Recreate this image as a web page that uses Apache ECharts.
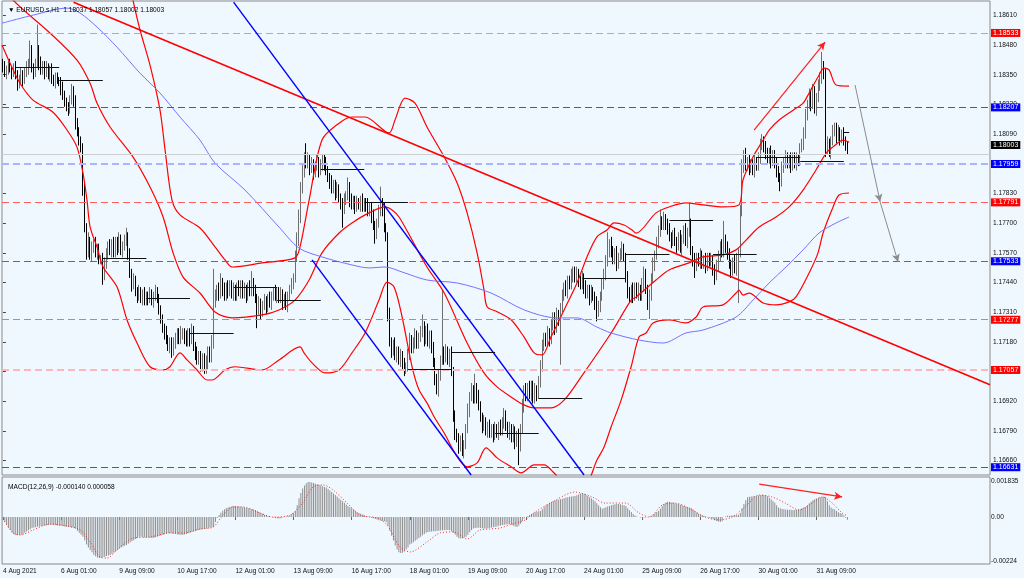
<!DOCTYPE html>
<html><head><meta charset="utf-8">
<script src="https://cdn.jsdelivr.net/npm/echarts@6/dist/echarts.min.js"></script>
<style>html,body{margin:0;padding:0;background:#f0f8ff}#c{width:1024px;height:578px}</style>
</head><body><div id="c"></div><script>
// ---------- DATA ----------
const symbolTitle = '\u25BC EURUSD.s,H1  1.18037 1.18057 1.18002 1.18003';
const macdTitle = 'MACD(12,26,9) -0.000140 0.000058';
const slotCount = 544;           // bar slots on the time axis (466 bars + right margin)
const firstOpen = 1.1840;
const closes = [
1.1838,1.1836,1.1837,1.1839,1.1838,1.1836,1.1838,1.1835,1.1831,1.1833,
1.1835,1.1833,1.1836,1.1838,1.1840,1.1845,1.1838,1.1836,1.1840,1.1846,
1.1840,1.1837,1.1839,1.1836,1.1838,1.1835,1.1837,1.1833,1.1832,1.1834,
1.1833,1.1832,1.1829,1.1826,1.1823,1.1822,1.1820,1.1824,1.1828,1.1824,
1.1813,1.1810,1.1807,1.1803,1.1785,1.1768,1.1757,1.1762,1.1756,1.1759,
1.1761,1.1757,1.1759,1.1754,1.1755,1.1747,1.1752,1.1757,1.1760,1.1758,
1.1761,1.1757,1.1762,1.1759,1.1763,1.1758,1.1760,1.1762,1.1764,1.1757,
1.1748,1.1743,1.1745,1.1740,1.1738,1.1740,1.1737,1.1739,1.1736,1.1738,
1.1737,1.1739,1.1736,1.1738,1.1740,1.1737,1.1733,1.1728,1.1724,1.1722,
1.1719,1.1716,1.1718,1.1714,1.1717,1.1720,1.1722,1.1719,1.1721,1.1722,
1.1720,1.1718,1.1722,1.1719,1.1723,1.1716,1.1713,1.1710,1.1712,1.1708,
1.1711,1.1706,1.1709,1.1714,1.1711,1.1718,1.1735,1.1738,1.1741,1.1739,
1.1744,1.1741,1.1738,1.1742,1.1740,1.1743,1.1739,1.1741,1.1738,1.1742,
1.1740,1.1743,1.1739,1.1741,1.1738,1.1742,1.1740,1.1744,1.1741,1.1737,
1.1732,1.1735,1.1731,1.1734,1.1736,1.1733,1.1737,1.1735,1.1738,1.1740,
1.1738,1.1740,1.1737,1.1739,1.1735,1.1737,1.1734,1.1738,1.1741,1.1743,
1.1746,1.1755,1.1763,1.1772,1.1785,1.1793,1.1799,1.1796,1.1798,1.1794,
1.1796,1.1792,1.1795,1.1797,1.1793,1.1795,1.1798,1.1796,1.1793,1.1790,
1.1788,1.1785,1.1787,1.1783,1.1785,1.1781,1.1779,1.1776,1.1780,1.1782,
1.1786,1.1780,1.1778,1.1780,1.1777,1.1779,1.1778,1.1780,1.1777,1.1779,
1.1778,1.1775,1.1777,1.1773,1.1769,1.1765,1.1770,1.1775,1.1779,1.1776,
1.1768,1.1764,1.1730,1.1718,1.1714,1.1717,1.1712,1.1714,1.1710,1.1712,
1.1708,1.1706,1.1707,1.1713,1.1719,1.1715,1.1718,1.1721,1.1717,1.1720,
1.1722,1.1725,1.1719,1.1723,1.1718,1.1721,1.1715,1.1709,1.1702,1.1698,
1.1703,1.1710,1.1714,1.1711,1.1714,1.1710,1.1713,1.1705,1.1686,1.1677,
1.1676,1.1672,1.1675,1.1670,1.1673,1.1680,1.1688,1.1694,1.1697,1.1693,
1.1698,1.1694,1.1690,1.1685,1.1681,1.1683,1.1679,1.1681,1.1678,1.1680,
1.1677,1.1680,1.1678,1.1681,1.1679,1.1683,1.1686,1.1681,1.1678,1.1680,
1.1676,1.1679,1.1674,1.1677,1.1672,1.1680,1.1690,1.1697,1.1694,1.1698,
1.1695,1.1699,1.1693,1.1697,1.1695,1.1700,1.1708,1.1716,1.1720,1.1718,
1.1722,1.1719,1.1725,1.1729,1.1724,1.1730,1.1727,1.1733,1.1738,1.1742,
1.1740,1.1745,1.1743,1.1747,1.1749,1.1746,1.1748,1.1745,1.1743,1.1746,
1.1742,1.1739,1.1741,1.1737,1.1740,1.1738,1.1735,1.1731,1.1734,1.1738,
1.1743,1.1748,1.1753,1.1757,1.1761,1.1758,1.1754,1.1757,1.1752,1.1755,
1.1757,1.1759,1.1755,1.1746,1.1740,1.1737,1.1741,1.1738,1.1742,1.1739,
1.1741,1.1738,1.1743,1.1748,1.1741,1.1735,1.1738,1.1746,1.1752,1.1756,
1.1761,1.1767,1.1771,1.1769,1.1772,1.1770,1.1767,1.1764,1.1762,1.1765,
1.1762,1.1760,1.1764,1.1759,1.1763,1.1767,1.1762,1.1766,1.1770,1.1758,
1.1754,1.1751,1.1755,1.1753,1.1756,1.1752,1.1754,1.1751,1.1755,1.1753,
1.1754,1.1750,1.1747,1.1751,1.1756,1.1760,1.1757,1.1763,1.1760,1.1756,
1.1752,1.1749,1.1753,1.1750,1.1755,1.1757,1.1775,1.1795,1.1800,1.1795,
1.1797,1.1794,1.1796,1.1793,1.1797,1.1795,1.1799,1.1804,1.1806,1.1803,
1.1801,1.1798,1.1801,1.1797,1.1800,1.1796,1.1793,1.1790,1.1788,1.1794,
1.1797,1.1799,1.1796,1.1798,1.1795,1.1799,1.1796,1.1798,1.1797,1.1803,
1.1804,1.1810,1.1817,1.1822,1.1826,1.1822,1.1828,1.1820,1.1825,1.1830,
1.1833,1.1838,1.1836,1.1802,1.1805,1.1801,1.1806,1.1810,1.1812,1.1808,
1.1810,1.1807,1.1809,1.1806,1.18037,1.18003];
// wick lengths above / below the body, in pips
const upWick = [
2,3,2,2,3,1,2,3,2,2, 3,2,2,3,2,5,3,2,2,11, 2,3,2,2,3,2,2,3,2,2, 2,1,2,3,2,2,1,2,3,2,
2,3,2,1,2,3,2,4,2,3, 2,3,2,2,1,2,3,2,2,3, 2,3,2,2,3,2,2,3,4,2, 2,2,3,2,2,3,2,2,3,2,
2,3,2,2,3,2,2,1,2,2, 3,2,2,2,3,2,2,2,4,2, 2,3,2,2,3,2,2,3,2,2, 2,2,3,2,2,3,15,3,2,3,
4,2,3,2,3,2,2,3,2,2, 3,2,2,3,2,2,3,5,2,2, 2,3,2,2,3,2,2,3,2,2, 3,2,2,3,2,2,3,2,2,3,
2,3,3,4,3,3,2,6,3,2, 3,2,2,3,2,3,2,2,3,2, 2,3,2,2,3,2,2,2,3,2, 4,2,3,2,2,3,2,2,3,2,
2,3,2,2,3,2,2,3,7,2, 3,2,2,3,2,2,3,2,2,3, 2,3,2,2,3,2,2,3,2,2, 3,5,2,2,3,2,2,3,2,2,
3,2,27,2,3,2,2,3,2,2, 3,2,2,3,2,2,3,2,3,2, 6,2,3,2,2,3,2,2,3,2, 2,3,2,2,3,2,3,2,2,3,
2,3,2,2,3,2,3,2,3,2, 3,2,2,3,2,3,2,3,2,2, 3,2,3,2,2,3,2,2,3,2, 3,2,2,3,2,2,3,2,2,3,
2,3,2,2,3,2,2,3,2,2, 3,2,3,9,2,3,2,2,3,2, 2,3,2,2,3,2,2,3,2,2, 3,2,3,3,2,2,3,2,3,2,
3,2,5,2,3,2,2,3,2,2, 3,2,2,3,2,2,3,2,9,2, 2,3,2,2,3,2,2,3,2,2, 3,2,2,3,2,2,3,8,2,2,
3,2,2,3,2,2,3,3,2,3, 2,3,2,2,3,2,2,3,3,2, 3,2,2,3,2,2,3,2,2,3, 2,3,2,2,3,2,2,3,2,2,
3,2,3,2,3,2,3,2,2,3, 3,7,3,2,3,2,2,3,2,2, 3,2,2,3,2,2];
const dnWick = [
2,2,3,2,2,3,2,2,3,2, 2,3,2,2,3,2,2,3,2,2, 3,2,2,3,2,2,3,2,2,3, 2,2,3,2,2,3,3,2,2,3,
2,2,3,2,3,2,3,2,2,3, 2,2,3,2,2,4,2,2,3,2, 3,2,2,3,2,2,3,2,2,3, 2,3,2,2,3,2,2,3,2,2,
3,2,2,3,2,2,3,2,2,3, 2,2,3,3,2,2,3,2,2,2, 3,2,2,3,2,2,3,2,2,3, 3,2,2,3,2,2,3,2,2,3,
2,3,2,2,3,2,2,3,2,2, 2,3,2,2,3,2,2,2,3,2, 8,2,3,2,2,3,2,2,3,2, 2,3,2,2,3,2,2,3,2,2,
2,2,2,3,2,2,3,2,2,3, 2,3,2,2,3,2,2,3,2,2, 3,2,2,3,2,2,3,8,2,2, 2,3,2,2,3,2,2,3,2,2,
3,2,2,3,2,4,2,2,2,3, 2,2,3,2,3,2,2,3,2,3, 2,3,2,2,3,2,2,3,2,2, 2,2,3,2,2,3,2,2,3,3,
4,2,2,3,2,2,3,2,3,2, 2,3,2,2,3,2,2,3,2,2, 2,3,2,2,3,2,2,3,2,2, 3,2,2,3,2,2,3,2,2,3,
2,2,3,2,8,2,2,3,2,2, 2,3,2,2,3,2,2,3,2,2, 2,3,2,2,3,2,2,19,2,2, 2,3,2,2,3,2,2,3,2,2,
3,2,2,3,2,2,3,4,2,3, 2,2,3,2,2,3,2,2,3,2, 2,3,2,2,3,2,2,3,2,2, 3,2,2,3,2,3,7,2,2,3,
2,2,3,2,2,3,2,2,3,2, 2,3,2,2,3,2,2,3,2,2, 3,5,2,2,3,2,2,3,2,2, 2,3,4,2,2,3,2,2,3,2,
2,3,2,2,3,20,2,2,3,2, 2,3,2,2,3,2,2,3,2,2, 3,2,2,3,2,2,3,2,4,2, 2,3,2,2,3,2,2,3,2,2,
2,2,3,2,2,3,2,2,3,2, 2,2,3,3,2,2,3,2,2,3, 2,3,2,2,2,0];
const timeLabels = ['4 Aug 2021','6 Aug 01:00','9 Aug 09:00','10 Aug 17:00','12 Aug 01:00','13 Aug 09:00','16 Aug 17:00','18 Aug 01:00','19 Aug 09:00','20 Aug 17:00','24 Aug 01:00','25 Aug 09:00','26 Aug 17:00','30 Aug 01:00','31 Aug 09:00'];
const priceTicks = [1.1666,1.1679,1.1692,1.1705,1.1718,1.1731,1.1744,1.1757,1.1770,1.1783,1.1796,1.1809,1.1822,1.1835,1.1848,1.1861];
const priceMin = 1.16597, priceMax = 1.18673;
// Bollinger bands and moving average: [bar, price] vertices
const upperBand = [[70.0,1.18743],[71.6,1.18677],[75.5,1.18546],[81.0,1.18392],[86.5,1.18195],[89.3,1.18020],[93.1,1.17801],[97.5,1.17736],[108.5,1.17679],[116.8,1.17596],[122.3,1.17539],[126.2,1.17508],[142.7,1.17526],[160.8,1.17548],[163.6,1.17596],[168.6,1.17801],[175.7,1.18064],[185.1,1.18138],[192.2,1.18165],[199.4,1.18165],[212.6,1.18095],[215.9,1.18152],[221.4,1.18248],[226.9,1.18226],[233.5,1.18121],[243.0,1.17990],[250.1,1.17876],[255.6,1.17745],[261.1,1.17570],[264.9,1.17408],[266.6,1.17334],[272.1,1.17312],[279.8,1.17277],[286.9,1.17202],[292.5,1.17132],[296.9,1.17123],[301.8,1.17202],[309.0,1.17320],[316.1,1.17438],[321.6,1.17552],[327.1,1.17640],[332.6,1.17670],[336.5,1.17701],[342.0,1.17692],[346.4,1.17670],[348.6,1.17656],[359.6,1.17745],[366.8,1.17771],[376.1,1.17789],[385.5,1.17780],[396.5,1.17771],[405.3,1.17780],[407.5,1.17889],[413.0,1.17990],[418.6,1.18064],[421.9,1.18108],[427.4,1.18152],[435.1,1.18195],[440.6,1.18226],[443.9,1.18270],[448.8,1.18340],[452.1,1.18379],[454.9,1.18371],[458.8,1.18305],[465.9,1.18300]];
const middleBand = [[3.5,1.18720],[5.6,1.18677],[25.9,1.18533],[40.8,1.18414],[48.0,1.18313],[51.8,1.18226],[59.0,1.18121],[71.6,1.17990],[81.0,1.17858],[88.2,1.17727],[93.7,1.17570],[99.2,1.17464],[108.5,1.17394],[116.8,1.17311],[126.2,1.17285],[142.7,1.17298],[152.0,1.17320],[160.8,1.17363],[168.6,1.17451],[175.7,1.17570],[185.1,1.17657],[192.2,1.17701],[201.6,1.17745],[210.4,1.17771],[214.3,1.17758],[218.1,1.17727],[225.3,1.17626],[233.5,1.17508],[243.0,1.17394],[255.6,1.17175],[264.9,1.17044],[272.1,1.16983],[279.8,1.16939],[286.9,1.16904],[292.5,1.16891],[301.8,1.16891],[309.0,1.16925],[318.3,1.17026],[334.9,1.17219],[345.9,1.17363],[348.6,1.17376],[359.6,1.17451],[366.8,1.17495],[377.8,1.17526],[385.5,1.17552],[396.5,1.17561],[403.7,1.17583],[409.2,1.17626],[416.4,1.17683],[425.7,1.17727],[432.9,1.17771],[440.6,1.17845],[447.7,1.17933],[453.3,1.18007],[457.1,1.18034],[462.6,1.18064],[465.9,1.18055]];
const lowerBand = [[-0.5,1.18480],[3.9,1.18401],[9.4,1.18313],[16.6,1.18239],[27.6,1.18186],[35.3,1.18108],[40.8,1.18033],[44.1,1.17919],[46.3,1.17801],[48.0,1.17684],[51.8,1.17596],[55.1,1.17509],[62.8,1.17421],[68.3,1.17277],[73.8,1.17176],[81.0,1.17071],[88.2,1.17057],[92.0,1.17071],[97.5,1.17132],[101.4,1.17101],[106.9,1.17057],[112.4,1.17013],[115.1,1.17013],[122.3,1.17057],[127.8,1.17071],[142.7,1.17057],[152.0,1.17101],[163.6,1.17158],[165.8,1.17132],[170.2,1.17088],[177.4,1.17044],[185.1,1.17057],[192.2,1.17132],[199.4,1.17219],[207.1,1.17363],[211.5,1.17442],[215.4,1.17420],[219.8,1.17289],[225.3,1.17071],[229.1,1.16970],[233.5,1.16913],[237.4,1.16852],[242.9,1.16782],[250.1,1.16677],[255.6,1.16633],[261.1,1.16650],[266.0,1.16716],[272.1,1.16672],[279.8,1.16633],[285.3,1.16606],[292.5,1.16641],[298.0,1.16641],[303.5,1.16606],[309.5,1.16560],[320.5,1.16560],[327.1,1.16663],[331.0,1.16720],[334.9,1.16808],[340.4,1.16925],[345.9,1.17071],[350.3,1.17202],[354.1,1.17219],[358.0,1.17263],[366.8,1.17276],[376.1,1.17263],[381.7,1.17289],[385.5,1.17333],[396.5,1.17342],[403.7,1.17394],[405.3,1.17407],[407.5,1.17385],[410.9,1.17394],[418.6,1.17350],[425.7,1.17342],[432.9,1.17355],[436.7,1.17377],[443.9,1.17482],[448.8,1.17570],[451.6,1.17657],[457.1,1.17771],[460.4,1.17823],[465.9,1.17832]];
const movingAverage = [[-0.5,1.18576],[16.6,1.18611],[35.3,1.18642],[42.5,1.18620],[51.8,1.18559],[62.8,1.18471],[75.5,1.18357],[86.5,1.18270],[97.5,1.18165],[108.5,1.18064],[116.8,1.17963],[133.3,1.17845],[152.0,1.17683],[163.0,1.17591],[175.7,1.17552],[192.2,1.17517],[201.6,1.17504],[210.4,1.17508],[219.8,1.17486],[233.5,1.17451],[250.1,1.17438],[268.8,1.17394],[287.0,1.17320],[305.1,1.17285],[316.1,1.17285],[327.1,1.17245],[334.9,1.17219],[350.3,1.17188],[363.5,1.17175],[376.1,1.17219],[385.5,1.17232],[403.7,1.17289],[413.0,1.17363],[421.9,1.17438],[431.2,1.17508],[440.6,1.17583],[449.4,1.17657],[458.8,1.17701],[465.9,1.17727]];
// horizontal levels
const levelPrices = [1.18533,1.18207,1.17959,1.17791,1.17533,1.17277,1.17057,1.16631];
const lastPrice = 1.18003;
// daily open markers
const dayStart = [7,31,55,79,103,127,151,175,199,223,247,271,295,319,343,367,391,415,439,463];
const dayOpen = [1.18384,1.18327,1.17547,1.17372,1.17219,1.17420,1.17363,1.17937,1.17793,1.17062,1.17136,1.16781,1.16934,1.17460,1.17565,1.17714,1.17565,1.17990,1.17972,1.18099];
// drawn objects: [bar, price] end points
const trendRed = [[38.9,1.18668],[543.5,1.16992]];
const channelUpper = [[127.0,1.18668],[320.0,1.16597]];
const channelLower = [[170.2,1.17539],[257.8,1.16597]];
const arrowRed = [[413.6,1.18108],[452.7,1.18493]];
const arrowGreyA = [[469.2,1.18305],[483.0,1.17793]];
const arrowGreyB = [[483.0,1.17793],[492.9,1.17530]];
// MACD (units of 0.00001)
const macdHist = [
-10,-25,-40,-55,-66,-80,-88,-92,-92,-92, -90,-86,-80,-74,-68,-62,-56,-54,-52,-50,
-48,-46,-44,-43,-42,-41,-40,-40,-41,-42, -43,-44,-45,-46,-48,-50,-51,-52,-53,-55,
-60,-70,-80,-90,-100,-120,-140,-155,-168,-180, -192,-200,-206,-209,-208,-205,-202,-199,-196,-193,
-187,-181,-175,-168,-161,-155,-150,-146,-142,-136, -130,-124,-118,-112,-106,-100,-101,-102,-103,-104,
-105,-106,-107,-106,-103,-100,-97,-94,-91,-88, -85,-83,-81,-83,-85,-87,-89,-90,-91,-92,
-89,-86,-83,-80,-77,-74,-71,-68,-66,-64, -62,-60,-58,-56,-54,-52,-51,-25,-5,10,
22,32,40,46,49,52,54,56,56,55, 54,52,50,48,46,44,42,40,38,36,
31,26,21,16,12,8,5,2,0,-3, -5,-7,-8,-6,-3,0,3,6,8,15,
22,30,60,95,122,145,160,172,178,178, 176,173,170,167,164,160,157,153,150,143,
135,127,120,112,104,96,88,80,72,64, 56,50,44,38,32,26,21,17,13,9,
5,2,-1,-4,-7,-10,-13,-16,-18,-20, -22,-25,-45,-70,-95,-120,-145,-165,-180,-184,
-182,-176,-166,-155,-140,-135,-128,-121,-114,-107, -100,-93,-86,-80,-76,-75,-74,-73,-72,-71,
-70,-69,-68,-67,-66,-66,-67,-72,-80,-90, -100,-108,-110,-108,-104,-100,-90,-78,-66,-58,
-56,-55,-55,-56,-57,-58,-58,-57,-56,-54, -52,-50,-48,-45,-43,-41,-40,-38,-37,-36,
-40,-44,-48,-51,-45,-35,-20,-8,0,5, 10,15,20,24,27,29,30,40,50,58,
66,72,77,81,84,87,89,90,93,96, 99,101,103,105,106,107,111,115,119,122,
118,113,107,101,95,88,80,70,60,50, 42,46,50,54,56,60,63,65,66,66,
65,63,60,56,45,35,25,15,8,3, 0,-2,-3,-3,-2,0,2,5,12,19,
25,30,42,55,66,74,78,76,74,72, 70,68,66,63,60,57,54,51,48,46,
38,30,23,17,13,9,5,2,-1,-4, -8,-12,-16,-20,-23,-25,-22,0,4,6,
7,8,8,9,10,12,20,45,66,85, 100,103,105,106,107,108,110,112,113,112,
110,106,98,90,82,72,60,48,44,41, 39,38,37,37,37,36,36,37,38,40,
44,48,51,60,70,78,85,90,94,98, 100,102,104,100,80,60,48,42,38,30,
24,20,17,8,-4,-14];
const macdSignal = [[0,-10],[5.6,-81],[9.4,-92],[16.6,-66],[26,-36],[35.3,-46],[42.5,-66],[48,-127],[53.5,-204],[57.3,-209],[62.8,-168],[71.6,-107],[81,-102],[92,-81],[99.2,-81],[108.5,-61],[115.7,-51],[121.2,10],[126.7,51],[132.2,51],[141.6,20],[148.7,0],[158.1,10],[165.3,76],[170.8,153],[176.3,163],[181.8,137],[189.5,71],[196.6,10],[206,-5],[211.5,-41],[218.7,-153],[224.2,-178],[233.5,-127],[240.7,-81],[247.9,-76],[255.6,-112],[262.7,-66],[268.2,-61],[273.7,-56],[280.3,-36],[287.5,-15],[293,25],[302.4,76],[315,127],[324.4,102],[331.5,71],[342.6,71],[350.3,20],[355.8,0],[363,61],[370,71],[379.4,36],[386.6,0],[394.3,-15],[401.5,0],[408.6,51],[416.4,112],[423.5,102],[430.7,71],[438.4,36],[445.5,71],[451.1,102],[456.6,71],[462.1,20],[465,6]];
const macdArrow = [[416.4,168],[462.1,102]];
const macdUnit = 1e-5;
const macdMin = -0.002394, macdMax = 0.0020375;
const macdTickValues = [0.001835, 0, -0.00224];
const macdTickText = ['0.001835', '0.00', '-0.00224'];

// ---------- STYLE ----------
const FONT = '"Liberation Sans", Arial, sans-serif';
const FS = 6.6;
const levelLineColors = ['#ff8c8c','#4848ff','#aab4ff','#ff5c5c','#5858ff','#ff6b6b','#ffb6b6','#4848ff'];
const levelLineWidths = [1,1,2,1,1,1,2,1];
const levelBoxColors = ['#ff0000','#0000ff','#0000ff','#ff0000','#0000ff','#ff0000','#ff0000','#0000ff'];

const cats = Array.from({length: slotCount}, (_, i) => String(i));
const candles = closes.map((c, i) => {
  const o = i ? closes[i - 1] : firstOpen;
  return [o, c, Math.min(o, c) - dnWick[i] * 1e-4, Math.max(o, c) + upWick[i] * 1e-4];
});
const boxLabel = (bg, extra) => Object.assign({
  show: true, position: 'end', distance: 1, color: '#fff', backgroundColor: bg,
  fontSize: FS + 0.4, fontFamily: FONT, padding: [1, 2, 0, 2], formatter: p => Number(p.value).toFixed(5)
}, extra || {});
const levelLines = levelPrices.map((v, i) => ({
  yAxis: v,
  lineStyle: {color: levelLineColors[i], width: levelLineWidths[i], type: [7, 4]},
  label: boxLabel(levelBoxColors[i])
}));
levelLines.unshift({yAxis: lastPrice, lineStyle: {color: '#cfcfcf', width: 1, type: 'solid'},
  label: boxLabel('#000000', {offset: [0, -9]})});

const seg = (pts, color, width, arrow) => [
  {coord: pts[0], symbol: 'none', lineStyle: {color, width, type: 'solid'}},
  {coord: pts[1], symbol: arrow ? 'arrow' : 'none', symbolSize: arrow ? [6, 8] : 0, lineStyle: {color, width, type: 'solid'}}
];
const daySegs = dayStart.map((s, i) => seg([[s, dayOpen[i]], [Math.min(s + 24, closes.length), dayOpen[i]]], '#111', 1, false));
const drawnObjects = [
  seg(trendRed, '#ff0000', 1.6, false),
  seg(channelUpper, '#0000ff', 1.4, false),
  seg(channelLower, '#0000ff', 1.4, false),
  seg(arrowRed, '#ff2020', 1.2, true),
  seg(arrowGreyA, '#8c8c8c', 1, true),
  seg(arrowGreyB, '#8c8c8c', 1, true)
].concat(daySegs);

const bandLine = (name, data, color, width) => ({
  name, type: 'line', xAxisIndex: 1, yAxisIndex: 0, data, showSymbol: false, smooth: 0.3,
  clip: true, silent: true, lineStyle: {color, width}, z: 3
});
const showDateTick = i => i % 32 === 0 && i / 32 < timeLabels.length;

const chart = echarts.init(document.getElementById('c'), null, {renderer: 'canvas'});
chart.setOption({
  animation: false,
  backgroundColor: '#f0f8ff',
  textStyle: {fontFamily: FONT},
  title: [
    {text: symbolTitle, left: 3, top: 2, textStyle: {fontSize: FS, fontWeight: 'normal', color: '#000', fontFamily: FONT}},
    {text: macdTitle, left: 3, top: 479, textStyle: {fontSize: FS, fontWeight: 'normal', color: '#000', fontFamily: FONT}}
  ],
  grid: [
    {left: 2, right: 34, top: 1, height: 474, show: true, borderColor: '#8a8a8a', borderWidth: 1, backgroundColor: 'transparent'},
    {left: 2, right: 34, top: 477, height: 87, show: true, borderColor: '#8a8a8a', borderWidth: 1, backgroundColor: 'transparent'}
  ],
  xAxis: [
    {type: 'category', gridIndex: 0, data: cats, boundaryGap: true, axisLine: {show: false}, axisTick: {show: false}, axisLabel: {show: false}, splitLine: {show: false}},
    {type: 'value', gridIndex: 0, min: -0.5, max: slotCount - 0.5, show: false},
    {type: 'category', gridIndex: 1, data: cats, boundaryGap: true, axisLine: {show: false},
      axisTick: {show: true, interval: showDateTick, alignWithLabel: true, length: 3, lineStyle: {color: '#666'}},
      axisLabel: {interval: showDateTick, align: 'left', margin: 4, fontSize: FS, color: '#111', fontFamily: FONT,
        formatter: (v, i) => showDateTick(i) ? timeLabels[i / 32] : ''}},
    {type: 'value', gridIndex: 1, min: -0.5, max: slotCount - 0.5, show: false}
  ],
  yAxis: [
    {type: 'value', gridIndex: 0, position: 'right', min: priceMin, max: priceMax, splitLine: {show: false},
      axisLine: {show: false}, axisTick: {show: true, length: 3, customValues: priceTicks, lineStyle: {color: '#444'}},
      axisLabel: {customValues: priceTicks, formatter: v => v.toFixed(5), fontSize: FS, color: '#111', margin: 3, fontFamily: FONT}},
    {type: 'value', gridIndex: 1, position: 'right', min: macdMin, max: macdMax, splitLine: {show: false},
      axisLine: {show: false}, axisTick: {show: false},
      axisLabel: {customValues: macdTickValues, fontSize: FS, color: '#111', margin: 1, fontFamily: FONT,
        formatter: v => { let k = 0; macdTickValues.forEach((t, j) => { if (Math.abs(t - v) < Math.abs(macdTickValues[k] - v)) k = j; }); return macdTickText[k]; }}}
  ],
  series: [
    {name: 'levels', type: 'line', xAxisIndex: 1, yAxisIndex: 0, data: [[0, lastPrice]], showSymbol: false, lineStyle: {opacity: 0}, silent: true, z: 1,
      markLine: {silent: true, symbol: 'none', precision: 5, animation: false, data: levelLines}},
    {name: 'EURUSD', type: 'candlestick', xAxisIndex: 0, yAxisIndex: 0, data: candles, barWidth: 1, silent: true, z: 2,
      itemStyle: {color: '#8a8a8a', color0: '#000000', borderColor: '#6e6e6e', borderColor0: '#000000', borderWidth: 1}},
    bandLine('upper', upperBand, '#ff0000', 1.2),
    bandLine('middle', middleBand, '#ff0000', 1.2),
    bandLine('lower', lowerBand, '#ff0000', 1.2),
    Object.assign(bandLine('ma', movingAverage, '#7373ff', 1), {
      markLine: {silent: true, symbol: 'none', precision: 6, animation: false, label: {show: false}, data: drawnObjects}}),
    {name: 'macd', type: 'bar', xAxisIndex: 2, yAxisIndex: 1, data: macdHist.map(v => v * macdUnit), barWidth: 1, silent: true,
      itemStyle: {color: '#8f8f8f'}},
    {name: 'signal', type: 'line', xAxisIndex: 3, yAxisIndex: 1, data: macdSignal.map(p => [p[0], p[1] * macdUnit]), showSymbol: false, smooth: 0.3, silent: true,
      lineStyle: {color: '#ff2a2a', width: 1, type: [1, 2]}, z: 3,
      markLine: {silent: true, symbol: 'none', precision: 8, animation: false, label: {show: false},
        data: [seg(macdArrow.map(p => [p[0], p[1] * macdUnit]), '#ff2020', 1.3, true)]}}
  ]
});
</script></body></html>
